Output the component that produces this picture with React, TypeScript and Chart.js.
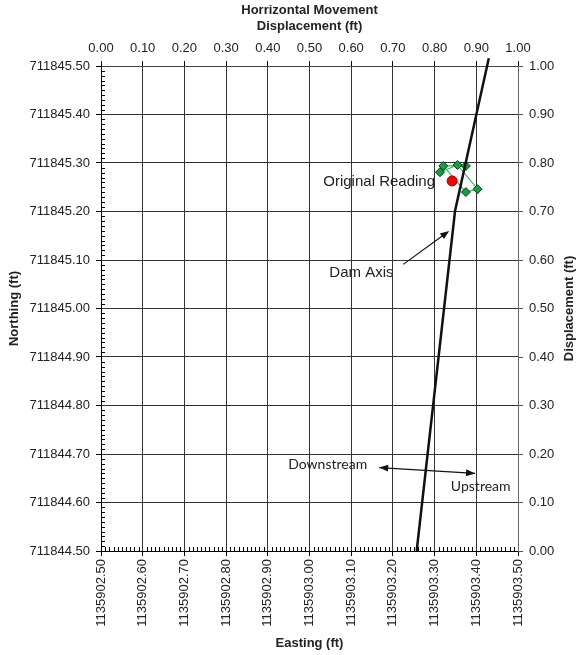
import React, { useEffect, useRef } from "react";
import { Chart, registerables } from "chart.js";

Chart.register(...registerables);

// ---------- data ----------
const eastingTicks = [
  1135902.5, 1135902.6, 1135902.7, 1135902.8, 1135902.9, 1135903.0,
  1135903.1, 1135903.2, 1135903.3, 1135903.4, 1135903.5,
];
const northingTicks = [
  711844.5, 711844.6, 711844.7, 711844.8, 711844.9, 711845.0,
  711845.1, 711845.2, 711845.3, 711845.4, 711845.5,
];
const displacementTicks = [0.0, 0.1, 0.2, 0.3, 0.4, 0.5, 0.6, 0.7, 0.8, 0.9, 1.0];

const damAxisEasting = [1135903.257, 1135903.349, 1135903.43];
const damAxisNorthing = [711844.5, 711845.201, 711845.516];

const readingEasting = [1135903.313, 1135903.355, 1135903.403, 1135903.375, 1135903.321, 1135903.375];
const readingNorthing = [711845.281, 711845.296, 711845.246, 711845.24, 711845.294, 711845.294];

const originalEasting = [1135903.342];
const originalNorthing = [711845.263];

// annotation anchors (data units)
const originalLabel = { text: "Original Reading", e: 1135903.301, n: 711845.262 };
const damLabel = { text: "Dam Axis", e: 1135903.0475, n: 711845.073 };
const damArrow = { e1: 1135903.225, n1: 711845.091, e2: 1135903.335, n2: 711845.16 };
const downLabel = { text: "Downstream", e: 1135902.949, n: 711844.679 };
const upLabel = { text: "Upstream", e: 1135903.339, n: 711844.634 };
const flowArrow = { e1: 1135903.167, n1: 711844.672, e2: 1135903.397, n2: 711844.66 };
const rightTitle = "Displacement (ft)";

const FONT = "'Liberation Sans', Arial, sans-serif";
const FONT2 = "Lato, 'Liberation Sans', sans-serif";
const GRID = "#333";

const zip = (xs: number[], ys: number[]) => xs.map((x, i) => ({ x, y: ys[i] }));

function arrowHead(ctx: CanvasRenderingContext2D, x1: number, y1: number, x2: number, y2: number, len: number, w: number) {
  const a = Math.atan2(y2 - y1, x2 - x1);
  ctx.beginPath();
  ctx.moveTo(x2, y2);
  ctx.lineTo(x2 - len * Math.cos(a) + w * Math.sin(a), y2 - len * Math.sin(a) - w * Math.cos(a));
  ctx.lineTo(x2 - len * Math.cos(a) - w * Math.sin(a), y2 - len * Math.sin(a) + w * Math.cos(a));
  ctx.closePath();
  ctx.fill();
}

const extrasPlugin = {
  id: "extras",
  afterDraw(chart: any) {
    const { ctx } = chart;
    const xs = chart.scales.x;
    const ys = chart.scales.y;
    const area = chart.chartArea;
    ctx.save();
    // minor ticks
    ctx.strokeStyle = "#000";
    ctx.lineWidth = 1;
    ctx.beginPath();
    for (let i = 0; i <= 100; i++) {
      if (i % 10 === 0) continue;
      const e = eastingTicks[0] + i * 0.01;
      const px = Math.round(xs.getPixelForValue(e)) + 0.5;
      ctx.moveTo(px, area.bottom);
      ctx.lineTo(px, area.bottom - 4);
      const n = northingTicks[0] + i * 0.01;
      const py = Math.round(ys.getPixelForValue(n)) + 0.5;
      ctx.moveTo(area.left, py);
      ctx.lineTo(area.left + 4, py);
    }
    ctx.stroke();

    // right axis title (reads bottom to top)
    ctx.save();
    ctx.fillStyle = "#222";
    ctx.font = `bold 13px ${FONT}`;
    ctx.textAlign = "center";
    ctx.textBaseline = "middle";
    ctx.translate(569, (area.top + area.bottom) / 2);
    ctx.rotate(-Math.PI / 2);
    ctx.fillText(rightTitle, 0, 0);
    ctx.restore();

    // texts
    ctx.fillStyle = "#222";
    ctx.textBaseline = "middle";
    ctx.font = `15px ${FONT}`;
    ctx.textAlign = "right";
    ctx.fillText(originalLabel.text, xs.getPixelForValue(originalLabel.e), ys.getPixelForValue(originalLabel.n));
    ctx.textAlign = "left";
    ctx.fillText(damLabel.text, xs.getPixelForValue(damLabel.e), ys.getPixelForValue(damLabel.n));
    ctx.font = `14px ${FONT2}`;
    ctx.fillText(downLabel.text, xs.getPixelForValue(downLabel.e), ys.getPixelForValue(downLabel.n));
    ctx.fillText(upLabel.text, xs.getPixelForValue(upLabel.e), ys.getPixelForValue(upLabel.n));

    // dam arrow
    ctx.strokeStyle = "#111";
    ctx.fillStyle = "#111";
    ctx.lineWidth = 1.2;
    {
      const x1 = xs.getPixelForValue(damArrow.e1), y1 = ys.getPixelForValue(damArrow.n1);
      const x2 = xs.getPixelForValue(damArrow.e2), y2 = ys.getPixelForValue(damArrow.n2);
      ctx.beginPath();
      ctx.moveTo(x1, y1);
      ctx.lineTo(x2 - (x2 - x1) * 0.1, y2 - (y2 - y1) * 0.1);
      ctx.stroke();
      arrowHead(ctx, x1, y1, x2, y2, 9, 3.5);
    }
    // flow double arrow
    {
      const x1 = xs.getPixelForValue(flowArrow.e1), y1 = ys.getPixelForValue(flowArrow.n1);
      const x2 = xs.getPixelForValue(flowArrow.e2), y2 = ys.getPixelForValue(flowArrow.n2);
      ctx.beginPath();
      ctx.moveTo(x1, y1);
      ctx.lineTo(x2, y2);
      ctx.stroke();
      arrowHead(ctx, x1, y1, x2, y2, 9, 3.5);
      arrowHead(ctx, x2, y2, x1, y1, 9, 3.5);
    }
    ctx.restore();
  },
};

export default function App() {
  const ref = useRef<HTMLCanvasElement | null>(null);
  useEffect(() => {
    if (!ref.current) return;
    const tickFont = { family: FONT, size: 13 };
    const titleFont = { family: FONT, size: 13, weight: "bold" as const };
    const fmt = (v: any) => Number(v).toFixed(2);
    const chart = new Chart(ref.current, {
      type: "scatter",
      data: {
        datasets: [
          {
            label: "Dam Axis",
            data: zip(damAxisEasting, damAxisNorthing),
            showLine: true,
            borderColor: "#111",
            borderWidth: 2.5,
            pointRadius: 0,
            clip: false as any,
            xAxisID: "x",
            yAxisID: "y",
          },
          {
            label: "Original Reading",
            data: zip(originalEasting, originalNorthing),
            pointStyle: "circle",
            pointRadius: 5,
            pointBackgroundColor: "#ff0000",
            pointBorderColor: "#9a0000",
            pointBorderWidth: 1,
            xAxisID: "x",
            yAxisID: "y",
          },
          {
            label: "Readings",
            data: zip(readingEasting, readingNorthing),
            showLine: true,
            borderColor: "#2ec45a",
            borderWidth: 1.2,
            pointStyle: "rectRot",
            pointRadius: 4.5,
            pointBackgroundColor: "#13a043",
            pointBorderColor: "#0a3a1a",
            pointBorderWidth: 1,
            xAxisID: "x",
            yAxisID: "y",
          },
        ],
      },
      options: {
        responsive: false,
        animation: false,
        layout: { padding: 0 },
        plugins: { legend: { display: false }, tooltip: { enabled: false } },
        scales: {
          x: {
            type: "linear",
            position: "bottom",
            min: eastingTicks[0],
            max: eastingTicks[eastingTicks.length - 1],
            afterBuildTicks: (s: any) => {
              s.ticks = eastingTicks.map((v) => ({ value: v }));
            },
            ticks: { callback: fmt, minRotation: 90, maxRotation: 90, font: tickFont, color: "#222", padding: 3, autoSkip: false },
            grid: { color: GRID, lineWidth: 1, tickLength: 5, tickColor: "#000" },
            border: { color: "#000", width: 1 },
            title: { display: true, text: "Easting (ft)", font: titleFont, color: "#222", padding: { top: 4, bottom: 4 } },
            afterFit: (s: any) => {
              s.height = 104;
              s.paddingLeft = 0;
              s.paddingRight = 0;
            },
          },
          x2: {
            type: "linear",
            position: "top",
            min: displacementTicks[0],
            max: displacementTicks[displacementTicks.length - 1],
            afterBuildTicks: (s: any) => {
              s.ticks = displacementTicks.map((v) => ({ value: v }));
            },
            ticks: { callback: fmt, maxRotation: 0, font: tickFont, color: "#222", padding: 5, autoSkip: false },
            grid: { drawOnChartArea: false, tickLength: 5, tickColor: "#000" },
            border: { color: "#444", width: 1 },
            title: {
              display: true,
              text: ["Horrizontal Movement", "Displacement (ft)"],
              font: titleFont,
              color: "#222",
              padding: { top: 3, bottom: 2 },
            },
            afterFit: (s: any) => {
              s.height = 66;
              s.paddingLeft = 0;
              s.paddingRight = 0;
            },
          },
          y: {
            type: "linear",
            position: "left",
            min: northingTicks[0],
            max: northingTicks[northingTicks.length - 1],
            afterBuildTicks: (s: any) => {
              s.ticks = northingTicks.map((v) => ({ value: v }));
            },
            ticks: { callback: fmt, font: tickFont, color: "#222", padding: 6, autoSkip: false },
            grid: { color: GRID, lineWidth: 1, tickLength: 5, tickColor: "#000" },
            border: { color: "#000", width: 1 },
            title: { display: true, text: "Northing (ft)", font: titleFont, color: "#222", padding: { top: 7, bottom: 4 } },
            afterFit: (s: any) => {
              s.width = 101;
              s.paddingTop = 0;
              s.paddingBottom = 0;
            },
          },
          y2: {
            type: "linear",
            position: "right",
            min: displacementTicks[0],
            max: displacementTicks[displacementTicks.length - 1],
            afterBuildTicks: (s: any) => {
              s.ticks = displacementTicks.map((v) => ({ value: v }));
            },
            ticks: { callback: fmt, font: tickFont, color: "#222", padding: 6, autoSkip: false },
            grid: { drawOnChartArea: false, tickLength: 5, tickColor: "#555" },
            border: { color: "#666", width: 1 },
            title: { display: false },
            afterFit: (s: any) => {
              s.width = 60;
              s.paddingTop = 0;
              s.paddingBottom = 0;
            },
          },
        },
      },
      plugins: [extrasPlugin],
    });
    return () => chart.destroy();
  }, []);
  return (
    <div style={{ position: "absolute", left: 0, top: 0, width: 578, height: 655, background: "#fff" }}>
      <canvas ref={ref} width={578} height={655} style={{ display: "block" }} />
    </div>
  );
}
